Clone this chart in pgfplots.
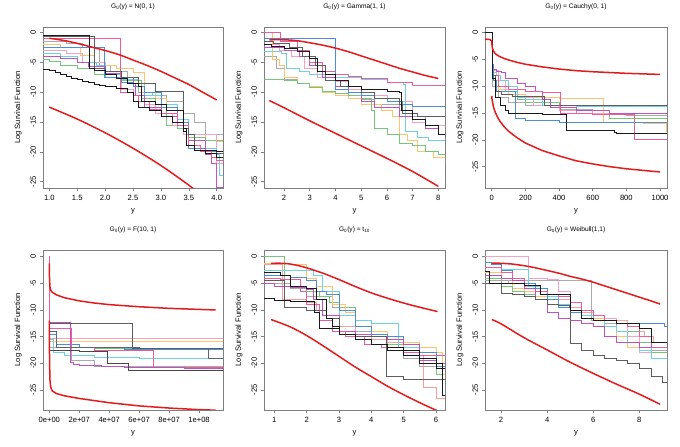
\documentclass[border=0pt]{standalone}
\usepackage{fontspec}
\setmainfont{Liberation Sans}
\usepackage{pgfplots}
\pgfplotsset{compat=1.18}
\definecolor{rred}{HTML}{E41A1C}
\definecolor{cblack}{HTML}{1A1A1A}
\definecolor{cdgray}{HTML}{5E5E5E}
\definecolor{clgray}{HTML}{AAAAAA}
\definecolor{cpink}{HTML}{EA5D98}
\definecolor{clpink}{HTML}{F4A3C3}
\definecolor{corange}{HTML}{FBC46E}
\definecolor{cgreen}{HTML}{78C679}
\definecolor{ccyan}{HTML}{6DD3E4}
\definecolor{cblue}{HTML}{4C8ED8}
\definecolor{cmag}{HTML}{C052C6}
\definecolor{csalmon}{HTML}{F5A09C}
\definecolor{boxc}{HTML}{808080}
\pgfplotsset{
  rpanel/.style={
    scale only axis, width=181pt, height=160pt,
    axis line style={draw=boxc, line width=0.6pt},
    tick align=outside, xtick pos=left, ytick pos=left,
    tick style={draw=boxc, line width=0.5pt}, major tick length=3.5pt,
    ticklabel style={font=\fontsize{7.6}{9}\selectfont},
    label style={font=\fontsize{7.6}{9}\selectfont},
    yticklabel style={rotate=90, anchor=south},
    title style={font=\fontsize{6.6}{8}\selectfont, at={(axis description cs:0.5,1)}, anchor=center, yshift=14.5pt},
    xlabel={y}, ylabel={Log Survival Function},
    xlabel style={at={(axis description cs:0.5,0)}, anchor=center, yshift=-23pt},
    ylabel style={at={(axis description cs:-0.138,0.5)}, anchor=center},
    ytick={-25,-20,-15,-10,-5,0},
    /pgf/number format/assume math mode=true,
    /pgf/number format/1000 sep={},
    clip=true,
  },
  st/.style={const plot, line width=0.7pt, mark=none},
  rc/.style={color=rred, line width=1.5pt, mark=none},
}
\begin{document}
\begin{tikzpicture}
\path (0pt,0pt) rectangle (680pt,442pt);
% ---------------- Panel 1: N(0,1)
\begin{axis}[rpanel, at={(43pt,259pt)}, anchor=south west, width=180pt, height=161pt,
  title={G\textsubscript{0}(y) = N(0, 1)},
  xmin=0.887, xmax=4.113, ymin=-26.06, ymax=0.96,
  xtick={1,1.5,2,2.5,3,3.5,4},
  xticklabel style={/pgf/number format/.cd, fixed, fixed zerofill, precision=1}]
\addplot[st, clgray] coordinates {(0.887,-1.5)(1.3,-1.8)(1.6,-2.5)(1.9,-5.5)(2.1,-6.5)(2.4,-8.0)(2.6,-10.0)(2.85,-10.5)(3.1,-11.5)(3.4,-13.5)(3.6,-15.0)(3.8,-17.0)(4.113,-17)};
\addplot[st, corange] coordinates {(0.887,-2.0)(1.2,-2.5)(1.55,-3.8)(1.8,-5.0)(2.0,-5.5)(2.2,-6.0)(2.5,-6.6)(2.7,-10.0)(2.9,-11.0)(3.1,-13.5)(3.3,-14.5)(3.5,-17)(3.8,-18)(4.0,-18.2)(4.113,-18.2)};
\addplot[st, cgreen] coordinates {(0.887,-4.5)(1.0,-4.8)(1.2,-5.5)(1.5,-6.0)(1.8,-7.0)(2.0,-7.5)(2.3,-8.0)(2.65,-11.0)(2.9,-12.5)(3.1,-15.5)(3.3,-16)(3.5,-17.5)(3.8,-18)(4.113,-18)};
\addplot[st, clpink] coordinates {(0.887,-3.0)(1.3,-3.5)(1.6,-5.0)(2.0,-7.0)(2.3,-9.5)(2.5,-11.5)(2.7,-12.0)(2.9,-13.5)(3.2,-15.5)(3.4,-17.0)(4.0,-22)(4.113,-22)};
\addplot[st, ccyan] coordinates {(0.887,-3.5)(1.2,-4)(1.5,-5.0)(1.85,-5.5)(2.0,-7.0)(2.3,-7.8)(2.6,-8.5)(2.7,-10.5)(3.0,-12)(3.3,-14.5)(3.5,-18)(3.8,-19.5)(4.0,-20.5)(4.05,-24)(4.113,-24.5)};
\addplot[st, cblue] coordinates {(0.887,-2.5)(1.98,-7.5)(2.3,-8.3)(2.5,-9)(2.7,-10)(3.0,-12.5)(3.3,-15)(3.5,-19.5)(3.8,-20)(4.113,-20)};
\addplot[st, cmag] coordinates {(0.887,-4.0)(1.2,-4.3)(1.5,-5.0)(1.7,-5.7)(2.0,-6.8)(2.3,-7.5)(2.5,-8.5)(2.55,-10.5)(2.7,-12.5)(3.0,-14)(3.3,-15.5)(3.5,-18)(3.8,-20.5)(3.9,-22)(4.0,-26)(4.113,-27)};
\addplot[st, cpink] coordinates {(0.887,-0.9)(2.27,-10)(2.5,-10.5)(2.6,-11.5)(2.8,-12.8)(3.0,-13.5)(3.3,-15.5)(3.5,-19)(3.7,-20)(3.9,-21)(4.0,-21.5)(4.113,-22)};
\addplot[st, cdgray] coordinates {(0.887,-0.6)(1.8,-6.0)(2.0,-6.5)(2.3,-7.5)(2.6,-8.5)(2.9,-9.8)(3.4,-16)(3.5,-17)(3.6,-19.8)(4.0,-20.3)(4.113,-20.3)};
\addplot[st, cblack] coordinates {(0.887,-0.5)(1.72,-6.0)(1.8,-6.3)(2.0,-7)(2.2,-7.6)(2.4,-8.5)(2.6,-9.0)(2.65,-11.5)(2.9,-12)(3.1,-13)(3.4,-16)(3.45,-19)(3.6,-19.7)(4.0,-20)(4.113,-20)};
\addplot[st, cblack] coordinates {(0.887,-6.2)(1.0,-6.4)(1.1,-6.7)(1.2,-7.0)(1.3,-7.3)(1.4,-7.6)(1.5,-7.9)(1.6,-8.2)(1.7,-8.4)(1.8,-8.6)(1.9,-8.8)(2.0,-9.0)(2.2,-9.4)(2.4,-10.0)(2.5,-11.5)(2.6,-12.5)(2.8,-13.0)(3.0,-14.0)(3.2,-15.0)(3.4,-16.5)(3.45,-19)(3.6,-19.8)(3.8,-20.2)(4.0,-21)(4.113,-21)};
\addplot[rc, smooth] coordinates {(1.0,-0.95)(1.25,-1.3)(1.5,-1.8)(1.75,-2.4)(2.0,-3.0)(2.25,-3.7)(2.5,-4.6)(2.75,-5.5)(3.0,-6.5)(3.25,-7.6)(3.5,-8.7)(3.75,-10.0)(4.0,-11.3)};
\addplot[rc, smooth] coordinates {(1.0,-12.5)(1.5,-14.5)(2.0,-16.8)(2.5,-19.4)(3.0,-22.3)(3.5,-25.6)(4.0,-29.2)};
\end{axis}
% ---------------- Panel 2: Gamma(1,1)
\begin{axis}[rpanel, at={(264pt,259pt)}, anchor=south west, height=161pt,
  title={G\textsubscript{0}(y) = Gamma(1, 1)},
  xmin=1.222, xmax=8.26, ymin=-26.06, ymax=0.96,
  xtick={2,3,4,5,6,7,8}]
\addplot[st, clgray] coordinates {(1.222,-4.0)(1.7,-6.0)(2.0,-7.8)(2.5,-8.5)(3.0,-9.2)(3.5,-9.8)(4.0,-10.5)(5.0,-11.2)(5.5,-12)(6.5,-13.0)(7.0,-14)(7.5,-15.5)(8.26,-15.8)};
\addplot[st, corange] coordinates {(1.222,0)(1.55,-4.5)(1.8,-5.5)(2.0,-7.5)(2.5,-8.5)(3.0,-9)(3.5,-10)(4.0,-10.5)(4.5,-11)(5.0,-12)(5.8,-13)(6.2,-14)(6.5,-17)(6.8,-18)(7.2,-20)(7.8,-21)(8.26,-22)};
\addplot[st, cgreen] coordinates {(1.222,-7.8)(2.0,-8.0)(2.5,-8.5)(3.0,-9.2)(3.5,-9.8)(4.0,-10.2)(4.5,-10.5)(5.0,-11.0)(5.4,-13)(5.5,-16)(6.0,-17.0)(6.5,-18.5)(7.0,-19.0)(7.5,-20.0)(8.0,-20.5)(8.26,-21)};
\addplot[st, clpink] coordinates {(1.222,-2.0)(1.8,-3.0)(2.3,-4.0)(2.8,-6)(3.3,-7.5)(4.0,-8.2)(4.5,-9.5)(5.0,-10.5)(6.0,-11.5)(7.0,-15.0)(7.5,-15.5)(8.26,-16.5)};
\addplot[st, ccyan] coordinates {(1.222,-3.2)(1.9,-3.5)(2.1,-6.0)(2.6,-6.5)(3.0,-7.0)(4.0,-7.5)(5.0,-7.8)(6.0,-8.3)(6.65,-8.7)(6.7,-16.5)(7.2,-17.5)(7.6,-18)(8.26,-18)};
\addplot[st, cmag] coordinates {(1.222,-2.5)(2.0,-3.0)(2.6,-4.0)(3.0,-5.5)(3.5,-7.5)(4.0,-9.0)(4.5,-10.0)(5.0,-11.5)(5.5,-12.5)(6.5,-14.0)(7.0,-14.5)(7.5,-16.0)(8.0,-17)(8.26,-17.8)};
\addplot[st, cpink] coordinates {(1.222,0)(1.85,-1.5)(2.5,-3)(3.0,-5)(3.5,-6.5)(4.0,-7)(4.5,-7.3)(5.0,-7.7)(6.0,-8.3)(7.0,-8.8)(8.26,-9.0)};
\addplot[st, cblue] coordinates {(1.222,-1.0)(4.0,-9.5)(4.5,-10)(5.0,-10.5)(5.5,-11)(6,-11.5)(6.6,-12)(7,-12.3)(8.26,-12.5)};
\addplot[st, cdgray] coordinates {(1.222,-1.5)(1.6,-1.8)(2.2,-2.5)(2.7,-4.0)(3.2,-5.5)(3.6,-8.0)(4.2,-9.0)(5.0,-10.0)(5.5,-11)(6.5,-12)(6.6,-13.5)(7.2,-14)(8.26,-14)};
\addplot[st, cblack] coordinates {(1.222,-2.0)(1.5,-2.3)(2.0,-2.7)(2.5,-3.2)(3.0,-4.3)(3.3,-6.5)(3.6,-7)(4.0,-8)(4.5,-9.0)(5.0,-9.5)(6.0,-9.8)(6.5,-10)(6.55,-13)(7.0,-14.5)(7.5,-15.5)(8.0,-17)(8.26,-17.5)};
\addplot[rc, smooth] coordinates {(1.43,-1.2)(2,-1.2)(2.5,-1.35)(3,-1.7)(3.5,-2.1)(4,-2.6)(4.5,-3.2)(5,-3.9)(5.5,-4.6)(6,-5.3)(6.5,-6.0)(7,-6.6)(7.5,-7.2)(8,-7.7)};
\addplot[rc, smooth] coordinates {(1.43,-11.4)(2,-12.6)(3,-14.8)(4,-16.9)(5,-19.0)(6,-21.1)(7,-23.3)(8,-25.8)};
\end{axis}
% ---------------- Panel 3: Cauchy(0,1)
\begin{axis}[rpanel, at={(485pt,259pt)}, anchor=south west, width=182pt, height=161pt,
  title={G\textsubscript{0}(y) = Cauchy(0, 1)},
  xmin=-40, xmax=1041.6, ymin=-28.97, ymax=1.06,
  xtick={0,200,400,600,800,1000}]
\addplot[st, clgray] coordinates {(-40,0)(5,-10)(40,-12)(100,-13)(200,-13.5)(400,-14.3)(600,-15)(800,-15.5)(1041.6,-16)};
\addplot[st, corange] coordinates {(-40,0)(5,-9)(40,-10.5)(100,-11.5)(200,-12)(400,-12.2)(665,-16.8)(900,-17)(1035,-17.2)(1040,-18.5)};
\addplot[st, cgreen] coordinates {(-40,0)(5,-9)(30,-10)(80,-11)(150,-12.5)(200,-13)(400,-14)(500,-15)(700,-16)(1041.6,-16.3)};
\addplot[st, clpink] coordinates {(-40,0)(5,-7)(40,-9)(80,-10.5)(150,-12)(250,-13.5)(400,-14.5)(600,-15)(1041.6,-15)};
\addplot[st, ccyan] coordinates {(-40,0)(5,-7.5)(30,-8)(50,-9)(100,-10)(150,-12)(200,-12.5)(300,-13.5)(500,-13.8)(1041.6,-14)};
\addplot[st, cmag] coordinates {(-40,0)(5,-6.8)(30,-7.2)(60,-7.5)(80,-8.5)(150,-9.5)(200,-10)(260,-11)(300,-12.5)(350,-14)(500,-14.5)(700,-15)(1041.6,-15.2)};
\addplot[st, cpink] coordinates {(-40,0)(5,-8)(40,-10)(100,-10.5)(200,-11)(300,-11.2)(405,-15)(600,-15.2)(845,-20)(1041.6,-20)};
\addplot[st, cblue] coordinates {(-40,0)(3,-6)(10,-9)(30,-11)(142,-16)(200,-16.4)(400,-16.7)(600,-16.8)(1041.6,-16.8)};
\addplot[st, cdgray] coordinates {(-40,0)(5,-8)(20,-11)(60,-11.5)(120,-11.8)(310,-13.5)(500,-13.5)(1041.6,-13.5)};
\addplot[st, cblack] coordinates {(-40,0)(5,-8.5)(20,-12)(50,-13.5)(80,-14.5)(100,-15)(300,-15.2)(445,-18.2)(600,-18.3)(730,-18.6)(740,-18.8)(1041.6,-18.8)};
\addplot[rc] coordinates {(-40,-1.2)(-10,-1.3)(0,-1.6)(2,-2.5)(5,-3.0)(10,-3.4)(20,-3.9)(35,-4.25)(50,-4.5)(75,-4.85)(100,-5.1)(150,-5.55)(200,-5.9)(300,-6.4)(400,-6.8)(500,-7.1)(600,-7.3)(700,-7.45)(800,-7.6)(900,-7.7)(1000,-7.8)};
\addplot[rc] coordinates {(0,-11.8)(2,-12.5)(5,-13.0)(10,-13.8)(20,-14.8)(35,-15.8)(50,-16.6)(75,-17.6)(100,-18.4)(150,-19.6)(200,-20.6)(300,-22.0)(400,-23.0)(500,-23.9)(600,-24.5)(700,-25.0)(800,-25.4)(900,-25.7)(1000,-26.0)};
\end{axis}
% ---------------- Panel 4: F(10,1)
\begin{axis}[rpanel, at={(43pt,37pt)}, anchor=south west, width=180pt,
  title={G\textsubscript{0}(y) = F(10, 1)},
  xmin=-0.42, xmax=11.6, ymin=-28.75, ymax=1.26,
  xtick={0,2,4,6,8,10}, xticklabels={0e+00,2e+07,4e+07,6e+07,8e+07,1e+08}]
\addplot[st, clpink] coordinates {(0,-15.4)(11.6,-15.4)};
\addplot[st, corange] coordinates {(0,-15.8)(11.6,-15.8)};
\addplot[st, cgreen] coordinates {(0,-17)(3,-17.2)(6,-17.3)(11.6,-17.5)};
\addplot[st, ccyan] coordinates {(0,-15.5)(0.3,-18)(1,-18.5)(3,-18.8)(6,-19)(11.6,-19)};
\addplot[st, cblue] coordinates {(0,-14.5)(0.5,-16.5)(2,-17)(5,-17.3)(11.6,-17.5)};
\addplot[st, clgray] coordinates {(0,-17)(1.45,-19.5)(3,-20.5)(11.6,-20.7)};
\addplot[st, cpink] coordinates {(0,0)(0.02,-13.5)(1.5,-17)(3,-17.5)(6.95,-20.8)(11.6,-21)};
\addplot[st, cmag] coordinates {(0,-12.4)(1.43,-19.8)(1.6,-20.2)(2,-20.3)(3.5,-20.5)(5,-20.7)(7,-20.8)(9,-21)(11.6,-21)};
\addplot[st, color=cdgray!80!cblue] coordinates {(0,-14)(0.45,-17)(6,-17.2)(10.65,-19)(11.6,-19)};
\addplot[st, cdgray] coordinates {(0,-12.5)(5.57,-17.2)(11.6,-17.2)};
\addplot[st, cblack!80] coordinates {(0,-17.5)(1,-17.5)(2,-17.8)(3.85,-20)(5.25,-21.3)(8,-21.4)(11.6,-21.5)};
\addplot[rc] coordinates {(0,-1.25)(0.01,-3.5)(0.02,-4.5)(0.05,-5.8)(0.1,-6.3)(0.2,-6.7)(0.5,-7.2)(1,-7.7)(1.5,-8.0)(2,-8.3)(3,-8.7)(4,-9.0)(5,-9.2)(6,-9.4)(8,-9.7)(10,-9.9)(11.1,-10.0)};
\addplot[rc] coordinates {(0,-12)(0.01,-17)(0.02,-20)(0.05,-23.5)(0.1,-24.5)(0.2,-25.2)(0.5,-25.7)(1,-26.1)(1.5,-26.35)(2,-26.6)(3,-27)(4,-27.4)(5,-27.7)(6,-28)(8,-28.4)(10,-28.7)(11.1,-28.8)};
\end{axis}
% ---------------- Panel 5: t10
\begin{axis}[rpanel, at={(264pt,37pt)}, anchor=south west,
  title={G\textsubscript{0}(y) = t\textsubscript{10}},
  xmin=0.68, xmax=6.28, ymin=-28.75, ymax=1.26,
  xtick={1,2,3,4,5,6}]
\addplot[st, clgray] coordinates {(0.68,-5)(1.5,-6.0)(2,-7.5)(2.8,-9.5)(3.5,-14)(4,-15)(4.5,-16)(5,-19)(5.5,-20.5)(6.28,-21)};
\addplot[st, cgreen] coordinates {(0.68,0)(1.3,-5.5)(2,-6.5)(2.4,-7.5)(2.7,-8.5)(3,-9.5)(3.5,-12)(4,-15)(4.5,-16.5)(5,-18)(5.5,-19.5)(6.0,-22)(6.28,-22.5)};
\addplot[st, corange] coordinates {(0.68,-1.3)(1.5,-1.5)(2,-4)(2.3,-5.5)(2.8,-9)(3.2,-10.5)(3.5,-12)(4,-14)(4.5,-15)(5,-16)(5.5,-17)(6.0,-18)(6.2,-22)(6.28,-22)};
\addplot[st, csalmon] coordinates {(0.68,-1.5)(1.25,-8)(2,-8.5)(2.3,-10)(2.6,-11)(3,-13)(3.5,-14.5)(4,-15.5)(4.5,-16)(5,-17)(5.5,-18.5)(5.6,-24.5)(6,-26.5)(6.28,-26.5)};
\addplot[st, ccyan] coordinates {(0.68,-2.5)(1.5,-2.5)(2.2,-3.5)(2.5,-6.5)(3,-11)(3.5,-12)(4,-12.5)(4.85,-17)(5.5,-18.5)(6.28,-19)};
\addplot[st, cblue] coordinates {(0.68,-3.5)(1.5,-3.8)(2,-4.5)(2.3,-6.5)(2.6,-7)(3,-10)(3.5,-13)(4,-14.5)(4.5,-15)(5,-16.5)(5.5,-18)(6,-20.5)(6.28,-21)};
\addplot[st, cmag] coordinates {(0.68,-5)(1.0,-5.5)(1.5,-5.8)(2,-6.2)(2.2,-8)(2.5,-11)(3,-14)(3.5,-14.5)(4,-15)(4.5,-15.5)(5,-16.5)(5.5,-19.5)(6,-20)(6.28,-20.5)};
\addplot[st, cpink] coordinates {(0.68,-4)(1.2,-4.3)(1.8,-6.5)(2,-9)(2.4,-12)(2.8,-14)(3.2,-15)(3.8,-16.5)(4.3,-17)(5,-18)(5.5,-18.5)(6.28,-18.5)};
\addplot[st, cdgray] coordinates {(0.68,-4.5)(1.3,-9.5)(2,-10)(2.6,-11.5)(3,-14.5)(3.5,-15)(4.45,-22.5)(5,-23)(6.28,-23.5)};
\addplot[st, cblack] coordinates {(0.68,-3)(1.2,-3.5)(1.5,-5.5)(2,-6)(2.3,-8)(2.6,-11.5)(2.8,-13)(3,-14.5)(3.5,-15.5)(4,-16.5)(4.5,-17.5)(5,-18.5)(5.5,-20)(6,-21)(6.28,-21)};
\addplot[st, cblack] coordinates {(0.68,-7.8)(1,-8.2)(1.5,-8.3)(2.25,-10.5)(2.4,-13.5)(3,-14.5)(3.5,-15.5)(4,-16.5)(4.5,-17)(5,-17.5)(5.5,-19)(6,-20)(6.2,-26)(6.28,-26)};
\addplot[rc, smooth] coordinates {(0.9,-1.25)(1.25,-1.25)(1.5,-1.4)(1.75,-1.7)(2,-2.1)(2.5,-3.1)(3,-4.3)(3.5,-5.6)(4,-6.8)(4.5,-7.8)(5,-8.7)(5.5,-9.5)(6.05,-10.3)};
\addplot[rc, smooth] coordinates {(0.9,-11.8)(1.5,-13.2)(2,-14.8)(2.5,-16.7)(3,-18.7)(3.5,-20.7)(4,-22.5)(4.5,-24.3)(5,-25.9)(5.5,-27.4)(6,-28.8)(6.2,-29.3)};
\end{axis}
% ---------------- Panel 6: Weibull(1,1)
\begin{axis}[rpanel, at={(485pt,37pt)}, anchor=south west, width=182pt,
  title={G\textsubscript{0}(y) = Weibull(1,1)},
  xmin=1.306, xmax=9.2, ymin=-28.75, ymax=1.26,
  xtick={2,4,6,8}]
\addplot[st, corange] coordinates {(1.306,-3)(2,-4.5)(2.5,-6)(3,-6.5)(3.5,-7.5)(4,-8)(4.5,-9)(5,-9.5)(5.5,-10.5)(6,-11.5)(6.5,-13)(7,-15)(7.5,-17)(8,-18)(9.2,-19)};
\addplot[st, cgreen] coordinates {(1.306,-4)(2,-5.5)(2.5,-6.5)(3,-7)(3.5,-8)(4,-9)(4.5,-9.5)(5,-10)(5.5,-10.5)(6,-11)(6.5,-11.5)(7,-12.5)(7.5,-14)(8,-16)(8.5,-18)(9.2,-20)};
\addplot[st, csalmon] coordinates {(1.306,-4.5)(2.3,-5)(3,-5.5)(3.5,-6.5)(4,-7)(4.5,-8)(5,-9.5)(5.5,-10.5)(6,-11)(6.5,-11.5)(7,-12)(7.5,-13)(8,-14)(8.2,-15)(8.6,-16)(9.2,-16)};
\addplot[st, clpink] coordinates {(1.306,0)(3.2,-4)(4,-4.2)(4.5,-6.5)(5,-8.5)(5.5,-10)(6,-11)(6.5,-11.5)(7,-12.5)(7.5,-15)(8,-18)(8.5,-19)(9.2,-21)};
\addplot[st, clgray] coordinates {(1.306,-4.5)(5.9,-12.0)(6.5,-12.5)(7,-14)(7.5,-16)(8,-17.5)(9.2,-18)};
\addplot[st, ccyan] coordinates {(1.306,-2)(2,-2.3)(3.2,-5.5)(3.7,-6)(4,-7.5)(4.5,-9)(5,-10)(5.5,-11)(6,-12)(6.5,-13)(7,-14)(7.5,-16)(8,-17.5)(8.5,-19)(9.2,-20)};
\addplot[st, cblue] coordinates {(1.306,-1)(1.6,-1.5)(2,-2.5)(2.5,-4)(3,-5)(3.5,-6)(4,-8)(4.5,-9.5)(5,-10.5)(5.5,-11.5)(6,-12)(7,-12.5)(9.1,-13)(9.2,-13)};
\addplot[st, cpink] coordinates {(1.306,-2)(2,-3)(2.5,-4)(3,-6)(3.5,-6.5)(4,-7)(4.5,-7.5)(5,-8.5)(5.5,-10)(6,-11)(6.5,-12)(7,-12.5)(7.5,-13)(8,-15)(8.5,-17)(9.2,-18)};
\addplot[st, cmag] coordinates {(1.306,-3.5)(2,-4)(2.5,-4.5)(3,-6)(3.5,-8)(4,-10.5)(4.5,-11.5)(5,-12)(5.5,-12.5)(6,-13)(6.5,-15)(7,-16)(8,-17)(8.5,-16)(9.2,-16)};
\addplot[st, cdgray] coordinates {(1.306,-5)(2,-6.8)(2.5,-7)(3,-7.5)(3.5,-8)(4,-9)(4.5,-9.2)(4.95,-9.5)(5.0,-16.3)(5.5,-17.5)(6,-18.5)(6.5,-19)(7,-19.5)(7.5,-20)(8,-21)(8.5,-22.5)(9,-23.5)(9.2,-24)};
\addplot[st, cblack] coordinates {(1.306,-2.8)(1.5,-5)(3,-5.3)(3.72,-7)(5,-10)(5.5,-11.5)(6,-12)(7,-12.5)(8,-13.5)(8.5,-16)(9.2,-17)};
\addplot[rc, smooth] coordinates {(1.6,-1.2)(2,-1.25)(2.5,-1.4)(3,-1.7)(3.5,-2.1)(4,-2.6)(4.5,-3.1)(5,-3.7)(5.5,-4.2)(6,-4.8)(6.5,-5.5)(7,-6.2)(7.5,-6.9)(8,-7.6)(8.5,-8.3)(8.9,-8.9)};
\addplot[rc, smooth] coordinates {(1.6,-11.8)(2,-12.6)(3,-15.2)(4,-17.5)(5,-19.8)(6,-21.9)(7,-23.9)(8,-25.8)(8.9,-27.7)};
\end{axis}
\end{tikzpicture}
\end{document}
